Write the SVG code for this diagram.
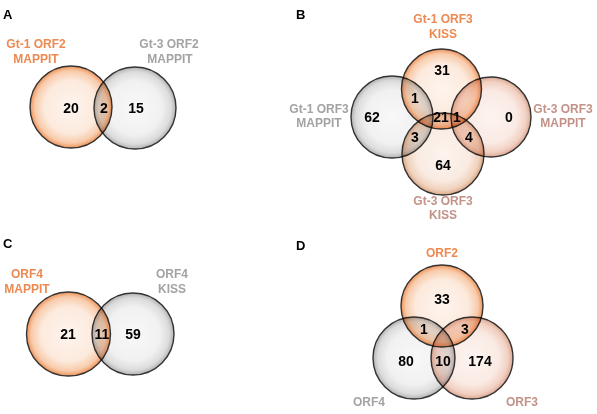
<svg xmlns="http://www.w3.org/2000/svg" width="597" height="414" viewBox="0 0 597 414">
<defs>
<radialGradient id="gO" cx="0.5" cy="0.5" r="0.5">
<stop offset="0" stop-color="#FEF4EE"/><stop offset="0.65" stop-color="#FCEADD"/><stop offset="0.88" stop-color="#F8CBAB"/><stop offset="1" stop-color="#EF9358"/>
</radialGradient>
<radialGradient id="gG" cx="0.5" cy="0.5" r="0.5">
<stop offset="0" stop-color="#F8F8F8"/><stop offset="0.65" stop-color="#F1F1F1"/><stop offset="0.88" stop-color="#DCDCDC"/><stop offset="1" stop-color="#B2B2B2"/>
</radialGradient>
<radialGradient id="gR" cx="0.5" cy="0.5" r="0.5">
<stop offset="0" stop-color="#FDF4F0"/><stop offset="0.65" stop-color="#FAEAE4"/><stop offset="0.88" stop-color="#F1D0C2"/><stop offset="1" stop-color="#DDA893"/>
</radialGradient>
<radialGradient id="gT" cx="0.5" cy="0.5" r="0.5">
<stop offset="0" stop-color="#FCF4EE"/><stop offset="0.65" stop-color="#F9EBE2"/><stop offset="0.88" stop-color="#F0D2BD"/><stop offset="1" stop-color="#DBA886"/>
</radialGradient>
</defs>
<style>
.c{stroke:#333;stroke-width:1.4;mix-blend-mode:multiply}
.o{fill:url(#gO)}.g{fill:url(#gG)}.r{fill:url(#gR)}.t{fill:url(#gT)}
.n{font-family:"Liberation Sans",Arial,sans-serif;font-weight:bold;font-size:14px;fill:#000;text-anchor:middle}
.l{font-family:"Liberation Sans",Arial,sans-serif;font-weight:bold;font-size:12px;text-anchor:middle}
.lo{fill:#EC8A52}.lg{fill:#A3A3A3}.lr{fill:#C39288}
.p{font-family:"Liberation Sans",Arial,sans-serif;font-weight:bold;font-size:13px;fill:#000}
</style>
<rect width="597" height="414" fill="#fff"/>
<g id="connectors"/>
<!-- Panel A -->
<text class="p" x="3" y="19">A</text>
<g id="A-gt1-orf2-mappit">
<circle class="c o" cx="71" cy="107" r="41"/>
<text class="l lo" x="36" y="48">Gt-1 ORF2</text>
<text class="l lo" x="36" y="63">MAPPIT</text>
</g>
<g id="A-gt3-orf2-mappit">
<circle class="c g" cx="135" cy="108" r="41"/>
<text class="l lg" x="169" y="48">Gt-3 ORF2</text>
<text class="l lg" x="170" y="63">MAPPIT</text>
</g>
<g id="A-numbers">
<text class="n" x="71" y="113">20</text>
<text class="n" x="104" y="113">2</text>
<text class="n" x="136" y="113">15</text>
</g>
<!-- Panel B -->
<text class="p" x="296" y="19">B</text>
<g id="B-gt1-orf3-mappit">
<circle class="c g" cx="392" cy="117" r="41"/>
<text class="l lg" x="319" y="113">Gt-1 ORF3</text>
<text class="l lg" x="319" y="127">MAPPIT</text>
</g>
<g id="B-gt3-orf3-mappit">
<circle class="c r" cx="491" cy="117" r="40"/>
<text class="l lr" x="563" y="113">Gt-3 ORF3</text>
<text class="l lr" x="563" y="127">MAPPIT</text>
</g>
<g id="B-gt3-orf3-kiss">
<circle class="c t" cx="443" cy="154" r="41"/>
<text class="l lr" x="443" y="205">Gt-3 ORF3</text>
<text class="l lr" x="443" y="219">KISS</text>
</g>
<g id="B-gt1-orf3-kiss">
<circle class="c o" cx="441.5" cy="89" r="40"/>
<text class="l lo" x="443" y="23">Gt-1 ORF3</text>
<text class="l lo" x="443" y="38">KISS</text>
</g>
<g id="B-numbers">
<text class="n" x="442" y="75">31</text>
<text class="n" x="415" y="103">1</text>
<text class="n" x="372" y="122">62</text>
<text class="n" x="441" y="122">21</text>
<text class="n" x="457" y="122">1</text>
<text class="n" x="509" y="122">0</text>
<text class="n" x="415" y="142">3</text>
<text class="n" x="469" y="142">4</text>
<text class="n" x="443" y="170">64</text>
</g>
<!-- Panel C -->
<text class="p" x="3" y="248">C</text>
<g id="C-orf4-mappit">
<circle class="c o" cx="68.5" cy="334" r="42"/>
<text class="l lo" x="27" y="278">ORF4</text>
<text class="l lo" x="27" y="293">MAPPIT</text>
</g>
<g id="C-orf4-kiss">
<circle class="c g" cx="133" cy="334" r="41"/>
<text class="l lg" x="172" y="278">ORF4</text>
<text class="l lg" x="172" y="293">KISS</text>
</g>
<g id="C-numbers">
<text class="n" x="68" y="339">21</text>
<text class="n" x="102" y="339">11</text>
<text class="n" x="133" y="339">59</text>
</g>
<!-- Panel D -->
<text class="p" x="296" y="250">D</text>
<g id="D-orf4">
<circle class="c g" cx="414" cy="358" r="41"/>
<text class="l lg" x="369" y="406">ORF4</text>
</g>
<g id="D-orf3">
<circle class="c r" cx="472" cy="358" r="41"/>
<text class="l lr" x="522" y="406">ORF3</text>
</g>
<g id="D-orf2">
<circle class="c o" cx="442" cy="306" r="41"/>
<text class="l lo" x="442" y="257">ORF2</text>
</g>
<g id="D-numbers">
<text class="n" x="442" y="304">33</text>
<text class="n" x="424" y="334">1</text>
<text class="n" x="465" y="334">3</text>
<text class="n" x="406" y="366">80</text>
<text class="n" x="443" y="366">10</text>
<text class="n" x="480" y="366">174</text>
</g>
</svg>
